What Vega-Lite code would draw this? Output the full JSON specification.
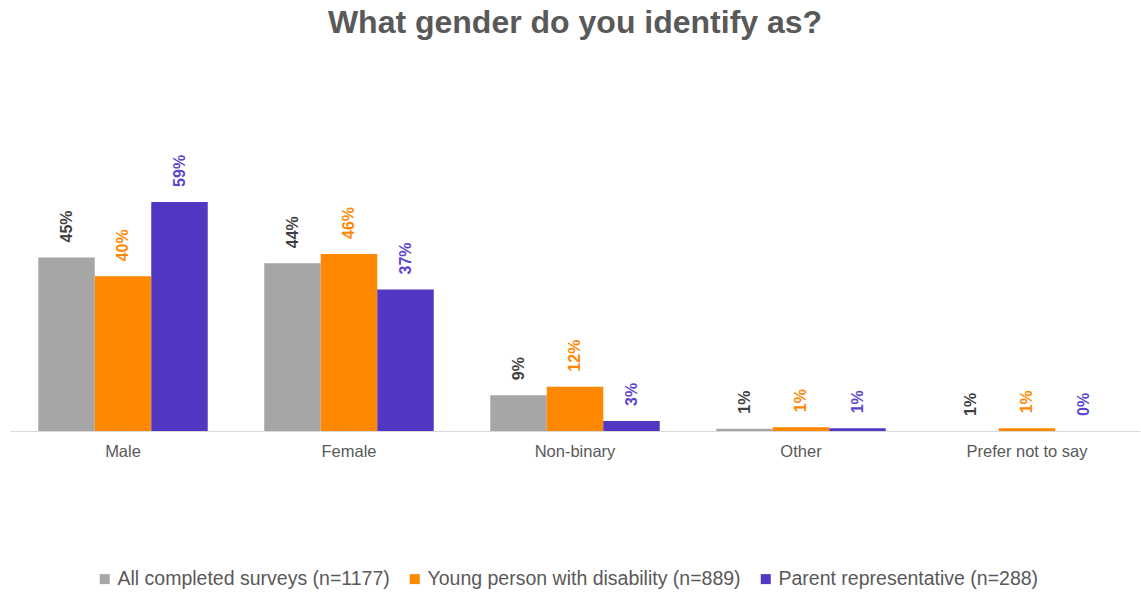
{
  "$schema": "https://vega.github.io/schema/vega-lite/v6.json",
  "width": 1130,
  "height": 270,
  "autosize": {"type": "none"},
  "padding": {"left": 10, "top": 161, "right": 1, "bottom": 163},
  "background": "white",
  "title": {
    "text": "What gender do you identify as?",
    "anchor": "middle",
    "fontSize": 32,
    "font": "Liberation Sans",
    "fontWeight": "bold",
    "color": "#595959",
    "offset": 115
  },
  "config": {"view": {"stroke": null}},
  "data": {
    "values": [
      {"category": "Male", "series": "All completed surveys (n=1177)", "value": 0.450, "label": "45%"},
      {"category": "Male", "series": "Young person with disability (n=889)", "value": 0.401, "label": "40%"},
      {"category": "Male", "series": "Parent representative (n=288)", "value": 0.594, "label": "59%"},
      {"category": "Female", "series": "All completed surveys (n=1177)", "value": 0.435, "label": "44%"},
      {"category": "Female", "series": "Young person with disability (n=889)", "value": 0.459, "label": "46%"},
      {"category": "Female", "series": "Parent representative (n=288)", "value": 0.367, "label": "37%"},
      {"category": "Non-binary", "series": "All completed surveys (n=1177)", "value": 0.093, "label": "9%"},
      {"category": "Non-binary", "series": "Young person with disability (n=889)", "value": 0.115, "label": "12%"},
      {"category": "Non-binary", "series": "Parent representative (n=288)", "value": 0.026, "label": "3%"},
      {"category": "Other", "series": "All completed surveys (n=1177)", "value": 0.006, "label": "1%"},
      {"category": "Other", "series": "Young person with disability (n=889)", "value": 0.010, "label": "1%"},
      {"category": "Other", "series": "Parent representative (n=288)", "value": 0.007, "label": "1%"},
      {"category": "Prefer not to say", "series": "All completed surveys (n=1177)", "value": 0.0, "label": "1%"},
      {"category": "Prefer not to say", "series": "Young person with disability (n=889)", "value": 0.007, "label": "1%"},
      {"category": "Prefer not to say", "series": "Parent representative (n=288)", "value": 0.0, "label": "0%"}
    ]
  },
  "encoding": {
    "x": {
      "field": "category",
      "type": "nominal",
      "sort": ["Male", "Female", "Non-binary", "Other", "Prefer not to say"],
      "scale": {"paddingInner": 0.25, "paddingOuter": 0.125},
      "axis": {
        "title": null,
        "labelAngle": 0,
        "labelFont": "Liberation Sans",
        "labelFontSize": 16.5,
        "labelColor": "#595959",
        "labelPadding": 12,
        "ticks": false,
        "domainColor": "#D9D9D9",
        "domainWidth": 1
      }
    },
    "xOffset": {
      "field": "series",
      "type": "nominal",
      "sort": ["All completed surveys (n=1177)", "Young person with disability (n=889)", "Parent representative (n=288)"],
      "scale": {"paddingInner": 0, "paddingOuter": 0}
    },
    "y": {
      "field": "value",
      "type": "quantitative",
      "scale": {"domain": [0, 0.7], "nice": false},
      "axis": null
    }
  },
  "layer": [
    {
      "mark": {"type": "bar"},
      "encoding": {
        "color": {
          "field": "series",
          "type": "nominal",
          "sort": ["All completed surveys (n=1177)", "Young person with disability (n=889)", "Parent representative (n=288)"],
          "scale": {
            "domain": ["All completed surveys (n=1177)", "Young person with disability (n=889)", "Parent representative (n=288)"],
            "range": ["#A6A6A6", "#FF8800", "#5237C3"]
          },
          "legend": {
            "title": null,
            "orient": "none",
            "direction": "horizontal",
            "legendX": 85,
            "legendY": 408,
            "symbolType": "square",
            "symbolSize": 100,
            "symbolStrokeWidth": 0,
            "labelFont": "Liberation Sans",
            "labelFontSize": 19.5,
            "labelColor": "#595959",
            "labelLimit": 0,
            "columnPadding": 15,
            "labelOffset": 3
          }
        }
      }
    },
    {
      "mark": {
        "type": "text",
        "angle": 270,
        "align": "left",
        "baseline": "middle",
        "dx": 15,
        "font": "Liberation Sans",
        "fontSize": 16,
        "fontWeight": "bold"
      },
      "encoding": {
        "text": {"field": "label"},
        "color": {
          "field": "series",
          "type": "nominal",
          "scale": {
            "domain": ["All completed surveys (n=1177)", "Young person with disability (n=889)", "Parent representative (n=288)"],
            "range": ["#404040", "#FF8800", "#5B45D0"]
          },
          "legend": null
        }
      }
    }
  ],
  "resolve": {"scale": {"color": "independent"}}
}
